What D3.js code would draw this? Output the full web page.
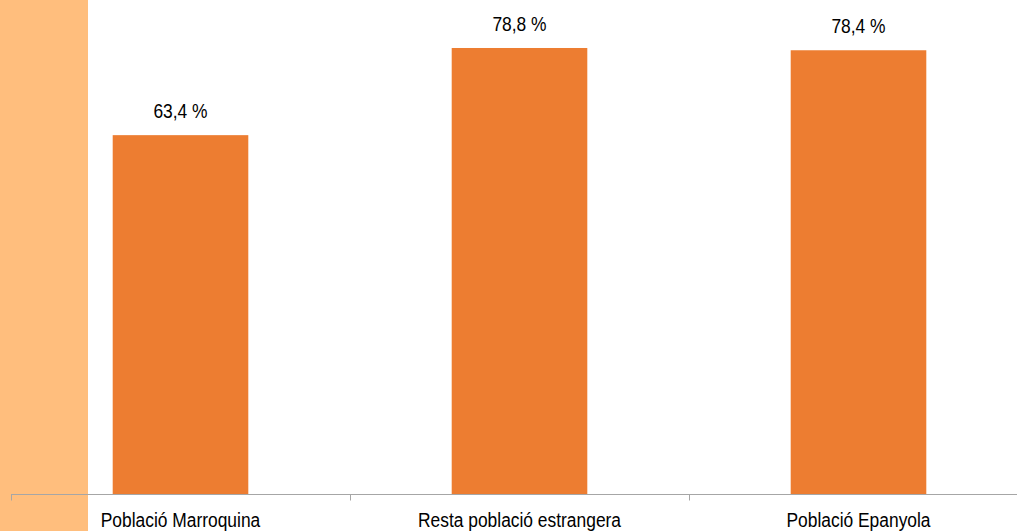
<!DOCTYPE html>
<html><head><meta charset="utf-8">
<script src="https://cdn.jsdelivr.net/npm/d3@7"></script>
<style>body{margin:0;background:#fff}svg{display:block}</style>
</head><body><svg id="c" width="1017" height="531"></svg>
<script>
const categories = ["Població Marroquina", "Resta població estrangera", "Població Epanyola"];
const values = [63.4, 78.8, 78.4];
const valueLabels = ["63,4 %", "78,8 %", "78,4 %"];

const svg = d3.select("#c");
const font = "'Liberation Sans',Arial,sans-serif";
const sx = 0.87;

svg.append("rect").attr("x",0).attr("y",0).attr("width",88).attr("height",531).attr("fill","#FFBE7D");

const x = d3.scaleBand().domain(categories).range([11,1028]).padding(0);
const y = d3.scaleLinear().domain([0,90]).range([494,-15.4]);
const bw = x.bandwidth()*0.4;

svg.selectAll(".bar").data(values).enter().append("rect")
  .attr("x",(d,i)=>x(categories[i])+x.bandwidth()/2-bw/2)
  .attr("y",d=>y(d)).attr("width",bw).attr("height",d=>y(0)-y(d))
  .attr("fill","#ED7D31");

svg.selectAll(".vl").data(values).enter().append("text")
  .attr("transform",(d,i)=>`translate(${x(categories[i])+x.bandwidth()/2},${y(d)-17}) scale(${sx},1)`)
  .attr("text-anchor","middle")
  .attr("font-family",font).attr("font-size",20).attr("fill","#000")
  .text((d,i)=>valueLabels[i]);

const ax = svg.append("g").attr("transform","translate(0,494.5)");
ax.append("line").attr("x1",11).attr("x2",1017).attr("y1",0).attr("y2",0).attr("stroke","#A6A6A6").attr("stroke-width",1);
const tickX = categories.map(c=>x(c)).concat([x.range()[1]]);
ax.selectAll(".t").data(tickX).enter().append("line")
  .attr("x1",d=>Math.round(d)+0.5).attr("x2",d=>Math.round(d)+0.5).attr("y1",0).attr("y2",6)
  .attr("stroke","#A6A6A6");
svg.selectAll(".cl").data(categories).enter().append("text")
  .attr("transform",d=>`translate(${x(d)+x.bandwidth()/2},527) scale(${sx},1)`)
  .attr("text-anchor","middle")
  .attr("font-family",font).attr("font-size",20).attr("fill","#000").text(d=>d);
</script></body></html>
